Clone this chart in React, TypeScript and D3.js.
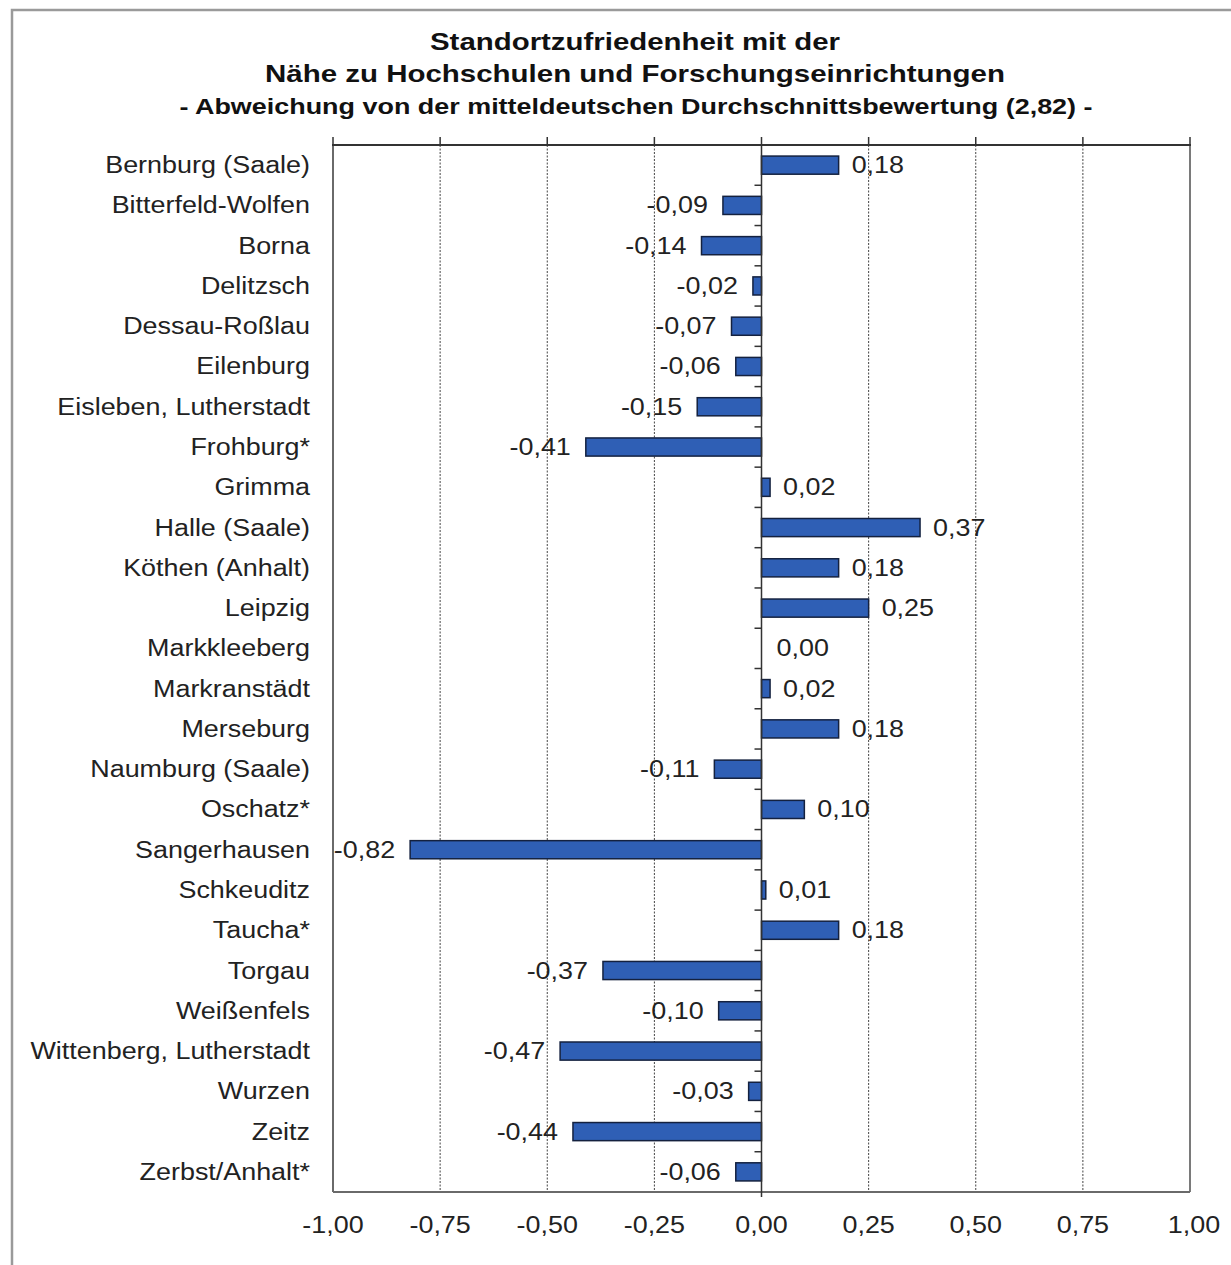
import React from "react";
import * as d3 from "d3";

const categories = [
  "Bernburg (Saale)",
  "Bitterfeld-Wolfen",
  "Borna",
  "Delitzsch",
  "Dessau-Roßlau",
  "Eilenburg",
  "Eisleben, Lutherstadt",
  "Frohburg*",
  "Grimma",
  "Halle (Saale)",
  "Köthen (Anhalt)",
  "Leipzig",
  "Markkleeberg",
  "Markranstädt",
  "Merseburg",
  "Naumburg (Saale)",
  "Oschatz*",
  "Sangerhausen",
  "Schkeuditz",
  "Taucha*",
  "Torgau",
  "Weißenfels",
  "Wittenberg, Lutherstadt",
  "Wurzen",
  "Zeitz",
  "Zerbst/Anhalt*",
];

const deviations = [
  0.18, -0.09, -0.14, -0.02, -0.07, -0.06, -0.15, -0.41, 0.02, 0.37, 0.18, 0.25,
  0.0, 0.02, 0.18, -0.11, 0.1, -0.82, 0.01, 0.18, -0.37, -0.1, -0.47, -0.03,
  -0.44, -0.06,
];

const xTicks = [-1, -0.75, -0.5, -0.25, 0, 0.25, 0.5, 0.75, 1];

const titleLines = [
  "Standortzufriedenheit mit der",
  "Nähe zu Hochschulen und Forschungseinrichtungen",
  "- Abweichung von der mitteldeutschen Durchschnittsbewertung (2,82) -",
];

const fmt = (v: number) => d3.format(".2f")(v).replace(".", ",").replace("−", "-");

// wide sans text: plain label stretched horizontally around its anchor
const STRETCH = 1.17;
function Wide({
  x,
  y,
  anchor,
  children,
}: {
  x: number;
  y: number;
  anchor: "start" | "middle" | "end";
  children: React.ReactNode;
}) {
  return (
    <text transform={`translate(${x},${y}) scale(${STRETCH},1)`} textAnchor={anchor}>
      {children}
    </text>
  );
}

export default function App() {
  const W = 1231;
  const H = 1265;
  const plot = { left: 333, right: 1190, top: 145, bottom: 1192 };

  const x = d3.scaleLinear().domain([-1, 1]).range([plot.left, plot.right]);
  const y = d3
    .scaleBand<string>()
    .domain(categories)
    .range([plot.top, plot.bottom])
    .paddingInner(0.55)
    .paddingOuter(0.275);
  const yOuter = d3.scaleBand<string>().domain(categories).range([plot.top, plot.bottom]);

  const font = "'Liberation Sans', Arial, sans-serif";
  const textColor = "#222";
  const x0 = x(0);
  const fs = 23;

  return (
    <svg
      width={W}
      height={H}
      style={{ position: "absolute", left: 0, top: 0, background: "#fff" }}
      fontFamily={font}
    >
      {/* outer frame */}
      <path d={`M12,${H} L12,10 L${W},10`} fill="none" stroke="#9a9a9a" strokeWidth={2.5} />

      {/* title */}
      <g fill="#111" fontWeight="bold" textAnchor="middle">
        <text x={635} y={50} fontSize={24} textLength={410} lengthAdjust="spacingAndGlyphs">
          {titleLines[0]}
        </text>
        <text x={635} y={82} fontSize={24} textLength={740} lengthAdjust="spacingAndGlyphs">
          {titleLines[1]}
        </text>
        <text x={636} y={114} fontSize={22} textLength={913} lengthAdjust="spacingAndGlyphs">
          {titleLines[2]}
        </text>
      </g>

      {/* gridlines */}
      {xTicks
        .filter((t) => t !== -1 && t !== 1 && t !== 0)
        .map((t) => (
          <line
            key={`g${t}`}
            x1={x(t)}
            x2={x(t)}
            y1={plot.top}
            y2={plot.bottom}
            stroke="#444"
            strokeWidth={1}
            strokeDasharray="2,1.5"
          />
        ))}

      {/* top ticks */}
      {xTicks.map((t) => (
        <line key={`t${t}`} x1={x(t)} x2={x(t)} y1={plot.top - 8} y2={plot.top} stroke="#333" strokeWidth={1.5} />
      ))}

      {/* plot frame */}
      <line x1={plot.left} x2={plot.left} y1={plot.top} y2={plot.bottom} stroke="#6a6a6a" strokeWidth={2} />
      <line x1={plot.right} x2={plot.right} y1={plot.top} y2={plot.bottom} stroke="#7a7a7a" strokeWidth={2} />
      <line x1={plot.left} x2={plot.right} y1={plot.bottom} y2={plot.bottom} stroke="#6a6a6a" strokeWidth={2} />
      <line x1={plot.left - 1} x2={plot.right + 1} y1={plot.top} y2={plot.top} stroke="#333" strokeWidth={2} />

      {/* bars */}
      {categories.map((c, i) => {
        const v = deviations[i];
        if (v === 0) return null;
        const xa = Math.min(x(v), x0);
        const w = Math.abs(x(v) - x0);
        return (
          <rect
            key={`b${c}`}
            x={xa}
            y={y(c)!}
            width={w}
            height={y.bandwidth()}
            fill="#2f5fb5"
            stroke="#14213f"
            strokeWidth={1.5}
          />
        );
      })}

      {/* zero axis with category ticks */}
      <line x1={x0} x2={x0} y1={plot.top} y2={plot.bottom + 5} stroke="#333" strokeWidth={1.5} />
      {categories.slice(1).map((c) => (
        <line
          key={`ct${c}`}
          x1={x0 - 7}
          x2={x0}
          y1={yOuter(c)!}
          y2={yOuter(c)!}
          stroke="#333"
          strokeWidth={1.5}
        />
      ))}

      {/* value labels */}
      <g fontSize={fs} fill={textColor}>
        {categories.map((c, i) => {
          const v = deviations[i];
          const cy = yOuter(c)! + yOuter.bandwidth() / 2 + 8;
          if (v < 0) {
            return (
              <Wide key={`v${c}`} x={x(v) - 15} y={cy} anchor="end">
                {fmt(v)}
              </Wide>
            );
          }
          return (
            <Wide key={`v${c}`} x={x(v) + (v === 0 ? 15 : 13)} y={cy} anchor="start">
              {fmt(v)}
            </Wide>
          );
        })}
      </g>

      {/* category labels */}
      <g fontSize={fs} fill={textColor}>
        {categories.map((c) => (
          <Wide key={`c${c}`} x={310} y={yOuter(c)! + yOuter.bandwidth() / 2 + 8} anchor="end">
            {c}
          </Wide>
        ))}
      </g>

      {/* x tick labels */}
      <g fontSize={fs} fill={textColor}>
        {xTicks.map((t) => (
          <Wide key={`xl${t}`} x={x(t) + (t === 1 ? 4 : 0)} y={1233} anchor="middle">
            {fmt(t)}
          </Wide>
        ))}
      </g>
    </svg>
  );
}
